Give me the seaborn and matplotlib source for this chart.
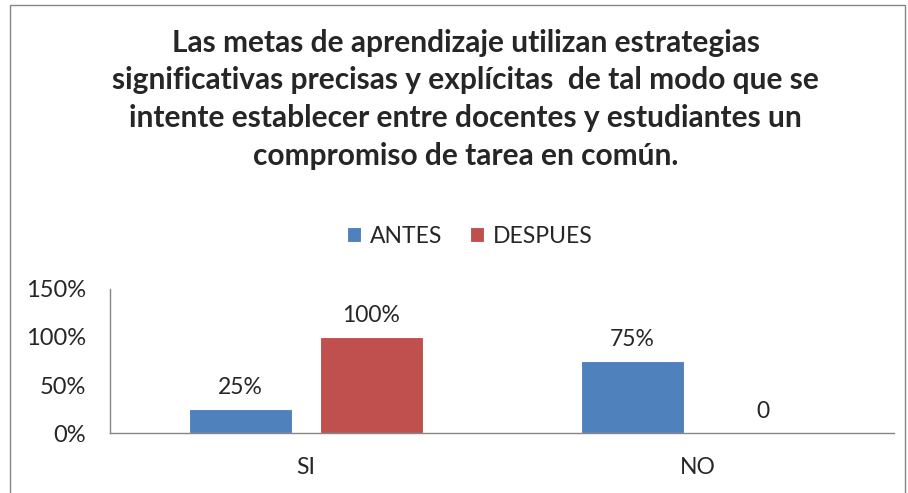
import pandas as pd
import seaborn as sns
import matplotlib.pyplot as plt
from matplotlib.ticker import PercentFormatter
from matplotlib.patches import Rectangle

# Datos
categorias = ["SI", "NO"]
series = ["ANTES", "DESPUES"]
antes = [0.25, 0.75]
despues = [1.00, 0.00]
etiquetas_antes = ["25%", "75%"]
etiquetas_despues = ["100%", "0"]
colores = ["#4F81BD", "#C0504D"]
titulo = ("Las metas de aprendizaje utilizan estrategias\n"
          "significativas precisas y explícitas  de tal modo que se\n"
          "intente establecer entre docentes y estudiantes un\n"
          "compromiso de tarea en común.")

df = pd.DataFrame({
    "categoria": categorias * 2,
    "serie": [series[0]] * 2 + [series[1]] * 2,
    "valor": antes + despues,
})

sns.set_style("white")
plt.rcParams["font.family"] = ["Lato", "DejaVu Sans"]

fig = plt.figure(figsize=(9.08, 4.93), dpi=100)
ax = fig.add_axes([0.1211, 0.1217, 0.8634, 0.2921])

sns.barplot(data=df, x="categoria", y="valor", hue="serie", order=categorias,
            hue_order=series, palette=colores, saturation=1, width=0.668, gap=0.214,
            edgecolor="white", linewidth=0.8, ax=ax)

for cont, etiquetas in zip(ax.containers, [etiquetas_antes, etiquetas_despues]):
    ax.bar_label(cont, labels=etiquetas, padding=8, fontsize=16.5)

ax.set_ylim(0, 1.5)
ax.set_yticks([0, 0.5, 1.0, 1.5])
ax.yaxis.set_major_formatter(PercentFormatter(1.0, decimals=0))
ax.set_xlabel("")
ax.set_ylabel("")
ax.tick_params(axis="y", length=6, width=1, color="#868686", labelsize=17, pad=11)
ax.tick_params(axis="x", length=0, labelsize=16.5, pad=17)
sns.despine(ax=ax)
for s in ["left", "bottom"]:
    ax.spines[s].set_color("#868686")
    ax.spines[s].set_linewidth(1)

handles, labels = ax.get_legend_handles_labels()
ax.get_legend().remove()
fig.legend(handles, labels, loc="center", bbox_to_anchor=(0.5176, 0.521), ncol=2,
           frameon=False, fontsize=16.5, handlelength=0.6, handleheight=0.6,
           handletextpad=0.4, columnspacing=1.2)

fig.text(0.513, 0.799, titulo, ha="center", va="center", fontsize=21.5,
         fontweight="bold", linespacing=1.42)

fig.patches.append(Rectangle((10 / 908, -0.05), 895 / 908, 1.04, transform=fig.transFigure,
                             fill=False, edgecolor="#868686", linewidth=1))

fig.savefig("out.png", dpi=100)
